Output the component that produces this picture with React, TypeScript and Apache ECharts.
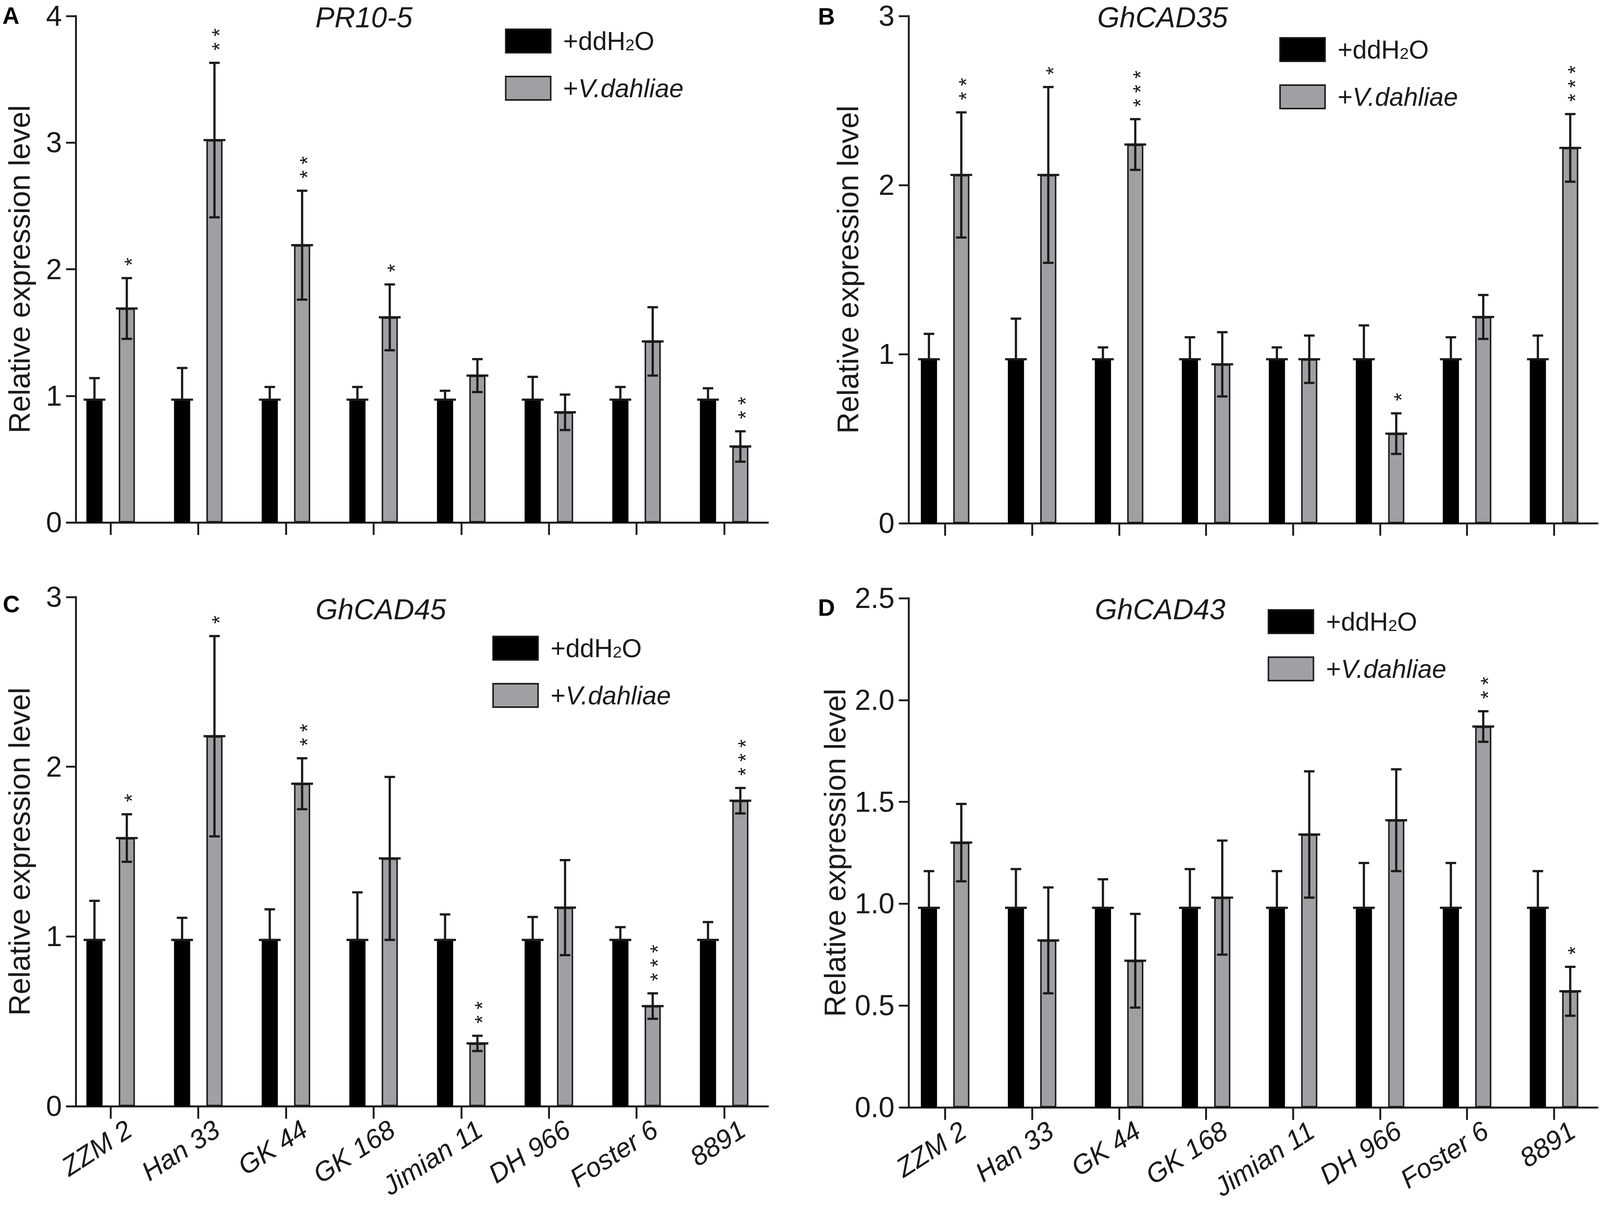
import React, { useEffect, useRef, useState } from 'react';
import * as echarts from 'echarts';

// ---------------- data ----------------
const categories = ['ZZM 2', 'Han 33', 'GK 44', 'GK 168', 'Jimian 11', 'DH 966', 'Foster 6', '8891'];

const ctrlA = [0.97, 0.97, 0.97, 0.97, 0.97, 0.97, 0.97, 0.97];
const ctrlErrA = [0.17, 0.25, 0.1, 0.1, 0.07, 0.18, 0.1, 0.09];
const vdA = [1.69, 3.02, 2.19, 1.62, 1.16, 0.87, 1.43, 0.6];
const vdErrA = [0.24, 0.61, 0.43, 0.26, 0.13, 0.14, 0.27, 0.12];
const starsA = ['*', '**', '**', '*', '', '', '', '**'];

const ctrlB = [0.97, 0.97, 0.97, 0.97, 0.97, 0.97, 0.97, 0.97];
const ctrlErrB = [0.15, 0.24, 0.07, 0.13, 0.07, 0.2, 0.13, 0.14];
const vdB = [2.06, 2.06, 2.24, 0.94, 0.97, 0.53, 1.22, 2.22];
const vdErrB = [0.37, 0.52, 0.15, 0.19, 0.14, 0.12, 0.13, 0.2];
const starsB = ['**', '*', '***', '', '', '*', '', '***'];

const ctrlC = [0.98, 0.98, 0.98, 0.98, 0.98, 0.98, 0.98, 0.98];
const ctrlErrC = [0.23, 0.13, 0.18, 0.28, 0.15, 0.135, 0.075, 0.105];
const vdC = [1.58, 2.18, 1.9, 1.46, 0.37, 1.17, 0.59, 1.8];
const vdErrC = [0.14, 0.59, 0.15, 0.48, 0.045, 0.28, 0.075, 0.075];
const starsC = ['*', '*', '**', '', '**', '', '***', '***'];

const ctrlD = [0.98, 0.98, 0.98, 0.98, 0.98, 0.98, 0.98, 0.98];
const ctrlErrD = [0.18, 0.19, 0.14, 0.19, 0.18, 0.22, 0.22, 0.18];
const vdD = [1.3, 0.82, 0.72, 1.03, 1.34, 1.41, 1.87, 0.57];
const vdErrD = [0.19, 0.26, 0.23, 0.28, 0.31, 0.25, 0.075, 0.12];
const starsD = ['', '', '', '', '', '', '**', '*'];

const titles = ['PR10-5', 'GhCAD35', 'GhCAD45', 'GhCAD43'];
const letters = ['A', 'B', 'C', 'D'];
const yMaxes = [4, 3, 3, 2.5];
const yIntervals = [1, 1, 1, 0.5];
const yDecimals = [0, 0, 0, 1];
const seriesNames = ['+ddH2O', '+V.dahliae'];
const yName = 'Relative expression level';

// ---------------- style / layout (reference pixels, mapped onto the viewport at run time) ----------------
const REF_W = 4550;
const REF_H = 3086;
const FONT = '"Liberation Sans", Arial, Helvetica, sans-serif';
const GRAY = '#a09fa4';
const INK = '#1a1a1a';
const BAR_W = 46;
const BAR_GAP = 1.0;
const CAP = 15;
const TOP_HALF = 31;

const layouts = [
  { left: 190, top: 41, width: 1994, height: 1297, yOffset: -26, nameGap: 119, showX: false,
    title: [1035, 45], letter: [7, 40], legend: [1436, 72] },
  { left: 2564, top: 41, width: 1979, height: 1299, yOffset: -20, nameGap: 131, showX: false,
    title: [3306, 45], letter: [2326, 42], legend: [3638, 94] },
  { left: 190, top: 1529, width: 1994, height: 1304, yOffset: -26, nameGap: 119, showX: true,
    title: [1083, 1561], letter: [8, 1547], legend: [1400, 1627] },
  { left: 2564, top: 1532, width: 1979, height: 1304, yOffset: -20, nameGap: 167, showX: true,
    title: [3299, 1561], letter: [2326, 1556], legend: [3605, 1559] },
];

const panels = [
  { ctrl: ctrlA, ctrlErr: ctrlErrA, vd: vdA, vdErr: vdErrA, stars: starsA },
  { ctrl: ctrlB, ctrlErr: ctrlErrB, vd: vdB, vdErr: vdErrB, stars: starsB },
  { ctrl: ctrlC, ctrlErr: ctrlErrC, vd: vdC, vdErr: vdErrC, stars: starsC },
  { ctrl: ctrlD, ctrlErr: ctrlErrD, vd: vdD, vdErr: vdErrD, stars: starsD },
];

function buildOption(sx: number, sy: number) {
  const X = (v: number) => v * sx;
  const Y = (v: number) => v * sy;
  const fs = Math.min(sy, sx * 1.045);
  const F = (v: number) => v * fs;
  const lw = (sx + sy) / 2;
  const W = (v: number) => v * lw;
  const OFF = (BAR_W * (1 + BAR_GAP)) / 2;
  const STAR_FS = 54 * sy;

  const makeErrRender = (sign: number, stars: string[] | null, lower: boolean) => (params: any, api: any) => {
    const j = api.value(0);
    const v = api.value(1);
    const e = api.value(2);
    const mid = api.coord([j, v]);
    const top = api.coord([j, v + e]);
    const bot = api.coord([j, v - e]);
    const x = mid[0] + sign * X(OFF);
    const ls = { stroke: INK, lineWidth: W(6) };
    const children: any[] = [
      { type: 'line', shape: { x1: x - X(TOP_HALF), y1: mid[1], x2: x + X(TOP_HALF), y2: mid[1] }, style: ls },
      { type: 'line', shape: { x1: x, y1: top[1], x2: x, y2: lower ? bot[1] : mid[1] }, style: ls },
      { type: 'line', shape: { x1: x - X(CAP), y1: top[1], x2: x + X(CAP), y2: top[1] }, style: ls },
    ];
    if (lower) {
      children.push({ type: 'line', shape: { x1: x - X(CAP), y1: bot[1], x2: x + X(CAP), y2: bot[1] }, style: ls });
    }
    const st = stars ? stars[params.dataIndex] : '';
    if (st) {
      // one vertical column of asterisks, written as a single rotated text
      children.push({
        type: 'text',
        x: x + 0.2285 * STAR_FS,
        y: top[1] - Y(42) + 0.195 * STAR_FS,
        rotation: Math.PI / 2,
        style: {
          text: st.split('').join(' '), fontSize: STAR_FS, fontFamily: FONT, fill: INK,
          align: 'left', verticalAlign: 'middle',
        },
      });
    }
    return { type: 'group', children };
  };

  const grid: any[] = [];
  const xAxis: any[] = [];
  const yAxis: any[] = [];
  const series: any[] = [];
  const legend: any[] = [];
  const graphic: any[] = [];

  panels.forEach((p, i) => {
    const L = layouts[i];
    grid.push({ left: X(L.left), top: Y(L.top), width: X(L.width), height: Y(L.height) });
    xAxis.push({
      gridIndex: i,
      type: 'category',
      data: categories,
      axisLine: { show: true, lineStyle: { color: INK, width: W(5) } },
      axisTick: { show: true, alignWithLabel: true, interval: 0, length: Y(32), lineStyle: { color: INK, width: W(5) } },
      axisLabel: {
        show: L.showX, interval: 0, rotate: 33, fontSize: F(73), fontStyle: 'italic',
        fontFamily: FONT, color: INK, margin: Y(84),
        padding: [Y(10), -X(63), -Y(10), 0],
      },
      splitLine: { show: false },
    });
    yAxis.push({
      gridIndex: i,
      type: 'value',
      min: 0,
      max: yMaxes[i],
      interval: yIntervals[i],
      offset: X(L.yOffset),
      name: yName,
      nameLocation: 'middle',
      nameGap: X(L.nameGap),
      nameTextStyle: { fontSize: Y(76), fontFamily: FONT, color: INK },
      axisLine: { show: true, lineStyle: { color: INK, width: W(5) } },
      axisTick: { show: true, length: X(28), lineStyle: { color: INK, width: W(5) } },
      axisLabel: {
        fontSize: F(78), fontFamily: FONT, color: INK, margin: X(40),
        formatter: (val: number) => val.toFixed(yDecimals[i]),
      },
      splitLine: { show: false },
    });
    series.push({
      name: seriesNames[0], type: 'bar', xAxisIndex: i, yAxisIndex: i, data: p.ctrl,
      barWidth: X(BAR_W), barGap: `${BAR_GAP * 100}%`, itemStyle: { color: '#000' }, z: 2,
    });
    series.push({
      name: seriesNames[1], type: 'bar', xAxisIndex: i, yAxisIndex: i, data: p.vd,
      barWidth: X(BAR_W), barGap: `${BAR_GAP * 100}%`,
      itemStyle: { color: GRAY, borderColor: INK, borderWidth: W(4) }, z: 2,
    });
    series.push({
      type: 'custom', xAxisIndex: i, yAxisIndex: i, z: 5, clip: false,
      data: p.ctrl.map((v, j) => [j, v, p.ctrlErr[j]]),
      renderItem: makeErrRender(-1, null, false),
    });
    series.push({
      type: 'custom', xAxisIndex: i, yAxisIndex: i, z: 5, clip: false,
      data: p.vd.map((v, j) => [j, v, p.vdErr[j]]),
      renderItem: makeErrRender(1, p.stars, true),
    });
    legend.push({
      data: seriesNames,
      orient: 'vertical',
      left: X(L.legend[0]),
      top: Y(L.legend[1]),
      padding: 0,
      icon: 'rect',
      itemWidth: X(128),
      itemHeight: Y(60),
      itemGap: Y(55),
      selectedMode: false,
      itemStyle: { borderColor: INK, borderWidth: W(4) },
      formatter: (name: string) => (name === seriesNames[0] ? '{n|+ddH}{sub|2}{n|O}' : '{n|+}{it|V.dahliae}'),
      textStyle: {
        fontSize: F(70), fontFamily: FONT, color: INK, padding: [0, 0, 0, X(30)], lineHeight: Y(60),
        rich: {
          n: { fontSize: F(70), fontFamily: FONT, color: INK, lineHeight: Y(60) },
          it: { fontSize: F(70), fontFamily: FONT, color: INK, fontStyle: 'italic', lineHeight: Y(60) },
          sub: { fontSize: F(44), fontFamily: FONT, color: INK, lineHeight: Y(44), verticalAlign: 'bottom' },
        },
      },
    });
    graphic.push({
      type: 'text', x: X(L.title[0]), y: Y(L.title[1]),
      style: { text: titles[i], fontSize: F(78), fontStyle: 'italic', fontFamily: FONT, fill: INK, align: 'center', verticalAlign: 'middle' },
    });
    graphic.push({
      type: 'text', x: X(L.letter[0]), y: Y(L.letter[1]),
      style: { text: letters[i], fontSize: F(64), fontWeight: 'bold', fontFamily: FONT, fill: '#000', align: 'left', verticalAlign: 'middle' },
    });
  });

  return {
    animation: false,
    backgroundColor: '#fff',
    textStyle: { fontFamily: FONT },
    grid, xAxis, yAxis, series, legend, graphic,
  };
}

export default function App() {
  const ref = useRef<HTMLDivElement>(null);
  const [size] = useState(() => {
    const w = typeof window !== 'undefined' && window.innerWidth ? window.innerWidth : REF_W;
    const h = typeof window !== 'undefined' && window.innerHeight ? window.innerHeight : REF_H;
    return { w, h, sx: w / REF_W, sy: h / REF_H };
  });
  useEffect(() => {
    document.body.style.margin = '0';
    document.body.style.overflow = 'hidden';
    if (!ref.current) return;
    const chart = echarts.init(ref.current, undefined, { renderer: 'svg' });
    chart.setOption(buildOption(size.sx, size.sy) as any);
    return () => chart.dispose();
  }, [size]);
  return <div ref={ref} style={{ width: size.w, height: size.h }} />;
}
